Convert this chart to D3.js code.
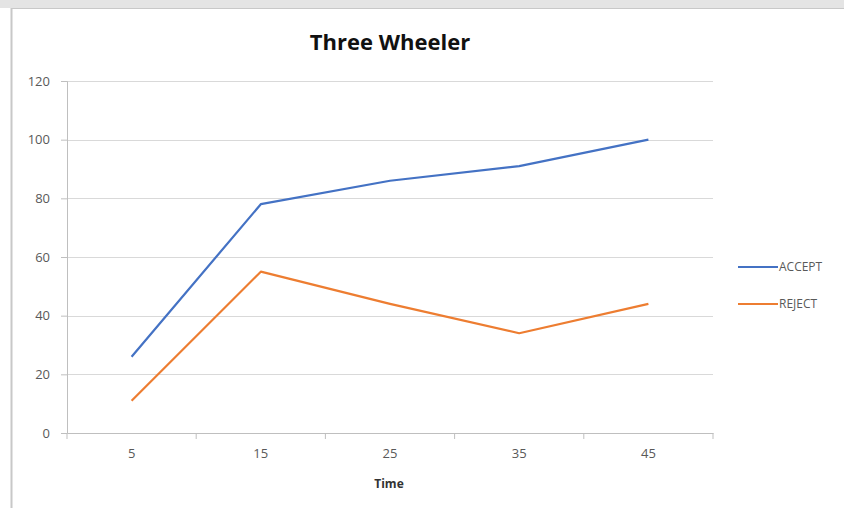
<!DOCTYPE html>
<html lang="en">
<head>
    <meta charset="UTF-8">
    <title>Three Wheeler</title>
    <script src="https://cdn.jsdelivr.net/npm/d3@7"></script>
    <style>
        body { margin: 0; background: #fff; }
        text { font-family: "Open Sans", "Liberation Sans", sans-serif; }
    </style>
</head>
<body>
<script>
    // chart data
    var times = ["5", "15", "25", "35", "45"];
    var accept = [26, 78, 86, 91, 100];
    var reject = [11, 55, 44, 34, 44];
    var yTicks = [0, 20, 40, 60, 80, 100, 120];
    var seriesNames = ["ACCEPT", "REJECT"];
    var seriesColors = ["#4472C4", "#ED7D31"];

    var width = 844, height = 508;
    var margin = {left: 67, right: 131, top: 81, bottom: 75};

    var svg = d3.select("body").append("svg")
        .attr("width", width)
        .attr("height", height);

    // page frame (top band + borders)
    svg.append("rect").attr("x", 0).attr("y", 0).attr("width", width).attr("height", 8).attr("fill", "#e4e4e4");
    svg.append("line").attr("x1", 11).attr("x2", width).attr("y1", 8.5).attr("y2", 8.5).attr("stroke", "#c8c8c8");
    svg.append("line").attr("x1", 11.5).attr("x2", 11.5).attr("y1", 8).attr("y2", height).attr("stroke", "#c8c8c8").attr("stroke-width", 2);

    var x = d3.scaleBand()
        .domain(times)
        .range([margin.left, width - margin.right]);

    var y = d3.scaleLinear()
        .domain([0, 120])
        .range([height - margin.bottom, margin.top]);

    // gridlines
    svg.append("g")
        .selectAll("line")
        .data(yTicks.filter(function (d) { return d > 0; }))
        .enter().append("line")
        .attr("x1", margin.left)
        .attr("x2", width - margin.right)
        .attr("y1", function (d) { return Math.round(y(d)) + 0.5; })
        .attr("y2", function (d) { return Math.round(y(d)) + 0.5; })
        .attr("stroke", "#d9d9d9")
        .attr("stroke-width", 1.2);

    // y axis
    var yAxis = svg.append("g")
        .attr("transform", "translate(" + margin.left + ",0)")
        .call(d3.axisLeft(y).tickValues(yTicks).tickSize(6).tickPadding(11));
    yAxis.select(".domain").attr("stroke", "#bfbfbf");
    yAxis.selectAll(".tick line").attr("stroke", "#bfbfbf");
    yAxis.selectAll("text").attr("fill", "#595959").style("font-size", "13px");

    // x axis
    var xAxis = svg.append("g")
        .attr("transform", "translate(0," + y(0) + ")")
        .call(d3.axisBottom(x).tickSize(0).tickPadding(16));
    xAxis.select(".domain").attr("stroke", "#bfbfbf");
    xAxis.selectAll("text").attr("fill", "#595959").style("font-size", "13px");
    // boundary ticks between categories
    var bounds = times.map(function (d) { return x(d); }).concat([x.range()[1]]);
    xAxis.selectAll(".bound")
        .data(bounds)
        .enter().append("line")
        .attr("class", "bound")
        .attr("x1", function (d) { return d; })
        .attr("x2", function (d) { return d; })
        .attr("y1", 0)
        .attr("y2", 6)
        .attr("stroke", "#bfbfbf");

    // lines
    var line = d3.line()
        .x(function (d, i) { return x(times[i]) + x.bandwidth() / 2; })
        .y(function (d) { return y(d); });

    [accept, reject].forEach(function (vals, i) {
        svg.append("path")
            .datum(vals)
            .attr("fill", "none")
            .attr("stroke", seriesColors[i])
            .attr("stroke-width", 2.2)
            .attr("stroke-linejoin", "round")
            .attr("d", line);
    });

    // title
    svg.append("text")
        .attr("x", 390)
        .attr("y", 50)
        .attr("text-anchor", "middle")
        .style("font-size", "22px")
        .style("font-weight", "bold")
        .attr("fill", "#111")
        .text("Three Wheeler");

    // axis title
    svg.append("text")
        .attr("x", 389)
        .attr("y", 488)
        .attr("text-anchor", "middle")
        .style("font-size", "12px")
        .style("font-weight", "bold")
        .attr("fill", "#333")
        .text("Time");

    // legend
    var legend = svg.append("g")
        .selectAll("g")
        .data(seriesNames)
        .enter().append("g")
        .attr("transform", function (d, i) { return "translate(738," + (267 + i * 37) + ")"; });
    legend.append("line")
        .attr("x1", 0).attr("x2", 40)
        .attr("stroke", function (d, i) { return seriesColors[i]; })
        .attr("stroke-width", 2.2);
    legend.append("text")
        .attr("x", 41)
        .attr("dy", "0.35em")
        .style("font-size", "12px")
        .attr("fill", "#595959")
        .text(function (d) { return d; });
</script>
</body>
</html>
